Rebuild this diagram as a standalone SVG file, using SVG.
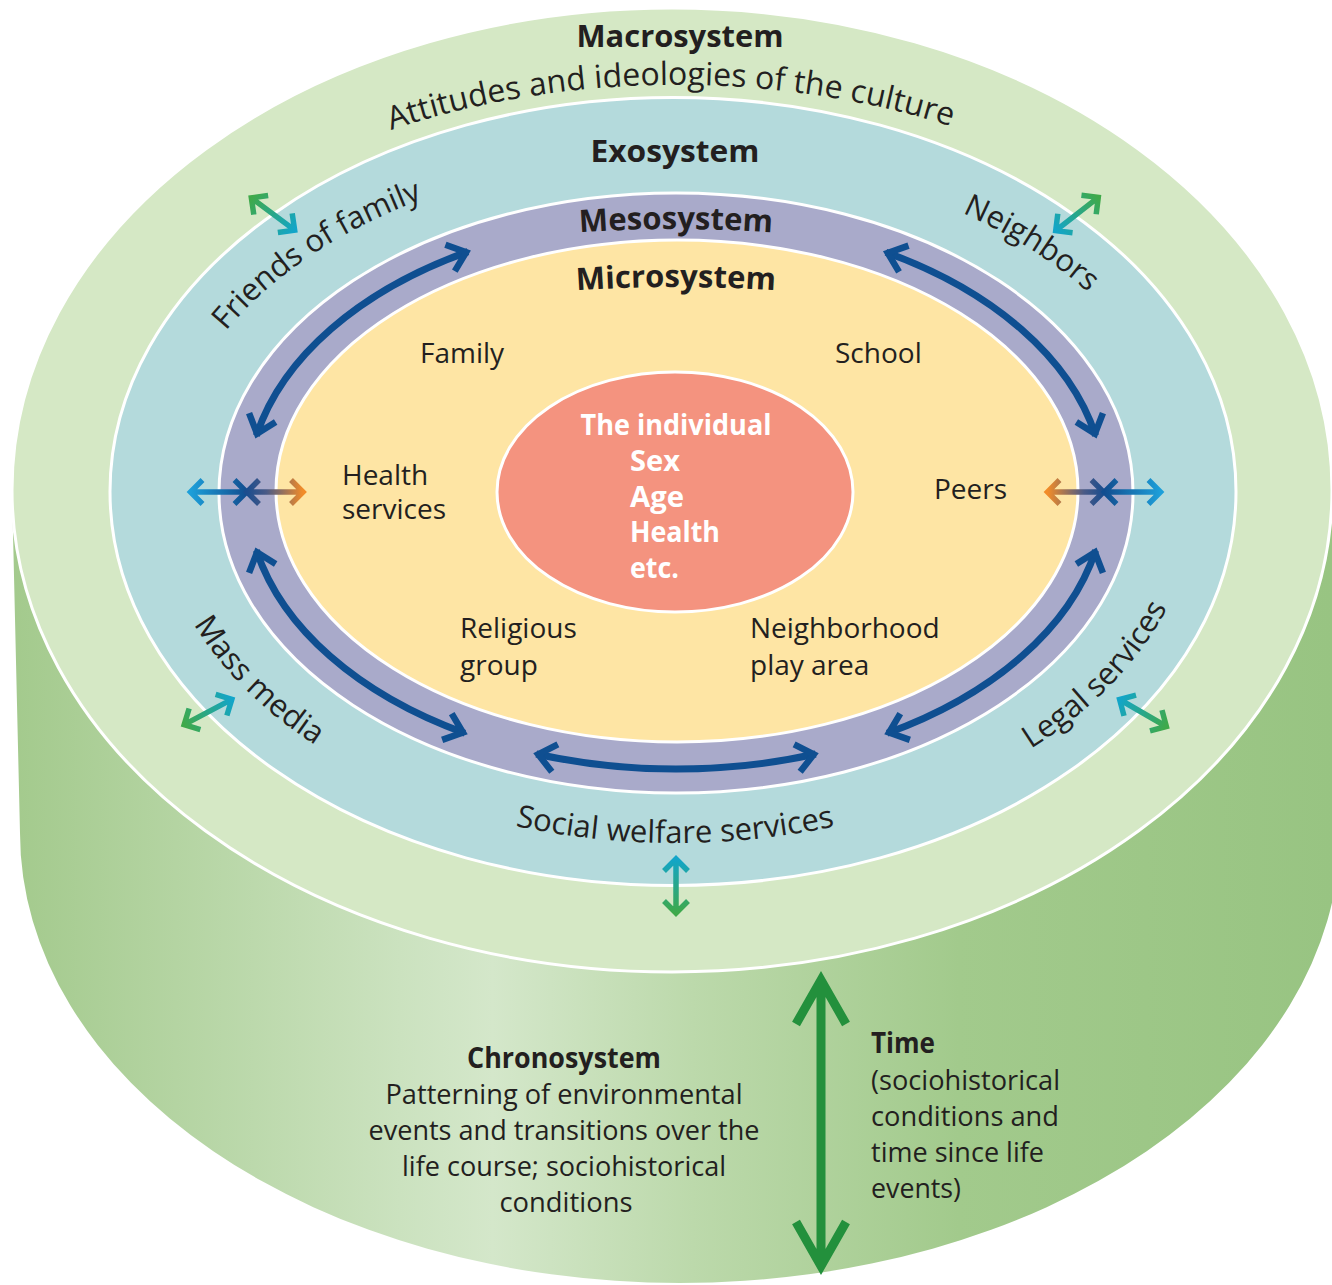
<svg xmlns="http://www.w3.org/2000/svg" xmlns:xlink="http://www.w3.org/1999/xlink" width="1332" height="1285" viewBox="0 0 1332 1285">
<style>
.t{font-family:"Open Sans","Noto Sans","Liberation Sans",sans-serif;fill:#231f20;font-size:28px}
.c{font-size:31px}
.att{font-size:32px}
.b{font-weight:700}
.hd{font-weight:700;font-size:31px}
.w{fill:#ffffff}
.ring{stroke:#ffffff;stroke-width:3}
.ma{fill:none;stroke:#0f4f91;stroke-width:7;marker-start:url(#mb);marker-end:url(#mb)}
.sa{fill:none;stroke-width:5.5;stroke-linejoin:miter}
</style>
<defs>
<linearGradient id="side" x1="0" y1="0" x2="1332" y2="0" gradientUnits="userSpaceOnUse">
<stop offset="0" stop-color="#a2c98b"/>
<stop offset="0.3" stop-color="#cbe2bf"/>
<stop offset="0.37" stop-color="#d4e7ca"/>
<stop offset="0.52" stop-color="#bcd9ab"/>
<stop offset="0.72" stop-color="#a2ca8c"/>
<stop offset="1" stop-color="#98c482"/>
</linearGradient>
<linearGradient id="gTG" x1="-27" y1="0" x2="27" y2="0" gradientUnits="userSpaceOnUse">
<stop offset="0" stop-color="#3fa94a"/>
<stop offset="1" stop-color="#12a5c9"/>
</linearGradient>
<linearGradient id="gLD" x1="-28" y1="0" x2="28" y2="0" gradientUnits="userSpaceOnUse">
<stop offset="0" stop-color="#1d9fd9"/>
<stop offset="1" stop-color="#124e90"/>
</linearGradient>
<linearGradient id="gDO" x1="-28" y1="0" x2="28" y2="0" gradientUnits="userSpaceOnUse">
<stop offset="0" stop-color="#1b4d8e"/>
<stop offset="0.35" stop-color="#4a5a86"/>
<stop offset="1" stop-color="#f28c28"/>
</linearGradient>
<marker id="mb" viewBox="-30 -20 40 40" refX="0" refY="0" markerWidth="40" markerHeight="40" markerUnits="userSpaceOnUse" orient="auto-start-reverse" overflow="visible">
<path d="M-19,-14 L-2,0 L-19,14" fill="none" stroke="#0f4f91" stroke-width="6.5"/>
</marker>
<path id="dbl" d="M-27,0 H27 M-15,-12 L-27,0 L-15,12 M15,-12 L27,0 L15,12"/>
<path id="dblB" d="M-28,0 H28 M-16,-12 L-28,0 L-16,12 M16,-12 L28,0 L16,12"/>
<path id="pAtt" d="M391.3,129.9 A625,408 0 0 1 1154.8,230.1"/>
<path id="pMeso" d="M376,264.4 A600,264 0 0 1 976,264.4"/>
<path id="pMicro" d="M401,314.6 A550,206 0 0 1 951,314.6"/>
<path id="pFriends" d="M226,331 A512,338 0 0 1 587.1,160.1"/>
<path id="pNeigh" d="M962.3,212.8 A512,338 0 0 1 1188,493"/>
<path id="pMass" d="M193.9,624.1 A520,350 0 0 0 585.7,837.7"/>
<path id="pLegal" d="M1030.6,749 A520,350 0 0 0 1196,493"/>
<path id="pSocial" d="M515.3,825.9 A520,350 0 0 0 936,796.1"/>
</defs>

<g id="chronosystem">
<path d="M12,490 L20,833 A660,450 0 0 0 1340,833 L1332,490 Z" fill="url(#side)"/>
<text class="t b" x="564" y="1068" text-anchor="middle" textLength="194" lengthAdjust="spacingAndGlyphs">Chronosystem</text>
<text class="t" x="564" y="1104" text-anchor="middle" textLength="357" lengthAdjust="spacingAndGlyphs">Patterning of environmental</text>
<text class="t" x="564" y="1140" text-anchor="middle" textLength="391" lengthAdjust="spacingAndGlyphs">events and transitions over the</text>
<text class="t" x="564" y="1176" text-anchor="middle" textLength="324" lengthAdjust="spacingAndGlyphs">life course; sociohistorical</text>
<text class="t" x="566" y="1212" text-anchor="middle" textLength="133" lengthAdjust="spacingAndGlyphs">conditions</text>
<text class="t b" x="871" y="1053" textLength="64" lengthAdjust="spacingAndGlyphs">Time</text>
<text class="t" x="871" y="1090" textLength="189" lengthAdjust="spacingAndGlyphs">(sociohistorical</text>
<text class="t" x="871" y="1126" textLength="188" lengthAdjust="spacingAndGlyphs">conditions and</text>
<text class="t" x="871" y="1162" textLength="173" lengthAdjust="spacingAndGlyphs">time since life</text>
<text class="t" x="871" y="1198" textLength="90" lengthAdjust="spacingAndGlyphs">events)</text>
</g>

<g id="macrosystem">
<ellipse class="ring" cx="672" cy="490" rx="660" ry="482" fill="#d5e8c5"/>
<text class="t hd" x="680" y="47" text-anchor="middle" textLength="207" lengthAdjust="spacingAndGlyphs">Macrosystem</text>
<text class="t att"><textPath href="#pAtt" xlink:href="#pAtt">Attitudes and ideologies of the culture</textPath></text>
</g>

<g id="exosystem">
<ellipse class="ring" cx="673" cy="491.5" rx="563" ry="394" fill="#b4dadc"/>
<text class="t hd" x="675" y="162" text-anchor="middle" textLength="169" lengthAdjust="spacingAndGlyphs">Exosystem</text>
<text class="t c"><textPath href="#pFriends" xlink:href="#pFriends">Friends of family</textPath></text>
<text class="t c"><textPath href="#pNeigh" xlink:href="#pNeigh">Neighbors</textPath></text>
<text class="t c"><textPath href="#pMass" xlink:href="#pMass">Mass media</textPath></text>
<text class="t c"><textPath href="#pLegal" xlink:href="#pLegal">Legal services</textPath></text>
<text class="t c"><textPath href="#pSocial" xlink:href="#pSocial">Social welfare services</textPath></text>
</g>

<g id="mesosystem">
<ellipse class="ring" cx="676" cy="493" rx="457" ry="300" fill="#a9aaca"/>
<text class="t hd" text-anchor="middle"><textPath href="#pMeso" xlink:href="#pMeso" startOffset="50%">Mesosystem</textPath></text>
</g>

<g id="microsystem">
<ellipse class="ring" cx="677" cy="491" rx="401" ry="251" fill="#fee5a4"/>
<text class="t hd" text-anchor="middle"><textPath href="#pMicro" xlink:href="#pMicro" startOffset="50%">Microsystem</textPath></text>
</g>

<g id="family"><text class="t" x="420" y="363">Family</text></g>
<g id="school"><text class="t" x="835" y="363">School</text></g>
<g id="health-services"><text class="t" x="342" y="485">Health</text><text class="t" x="342" y="519">services</text></g>
<g id="peers"><text class="t" x="934" y="499">Peers</text></g>
<g id="religious-group"><text class="t" x="460" y="638">Religious</text><text class="t" x="460" y="675">group</text></g>
<g id="neighborhood-play-area"><text class="t" x="750" y="638">Neighborhood</text><text class="t" x="750" y="675">play area</text></g>

<g id="individual">
<ellipse class="ring" cx="675" cy="492" rx="178" ry="120" fill="#f4937f"/>
<text class="t b w" x="676" y="435" text-anchor="middle" textLength="191" lengthAdjust="spacingAndGlyphs">The individual</text>
<text class="t b w" x="630" y="471" textLength="50" lengthAdjust="spacingAndGlyphs">Sex</text>
<text class="t b w" x="630" y="507" textLength="54" lengthAdjust="spacingAndGlyphs">Age</text>
<text class="t b w" x="630" y="542" textLength="90" lengthAdjust="spacingAndGlyphs">Health</text>
<text class="t b w" x="630" y="578" textLength="49" lengthAdjust="spacingAndGlyphs">etc.</text>
</g>

<g id="connectors">
<path class="ma" d="M256.4,435.6 A429,276 0 0 1 468,251.6"/>
<path class="ma" d="M885.9,252.3 A429,276 0 0 1 1095.6,435.6"/>
<path class="ma" d="M256.4,550.4 A429,276 0 0 0 464.8,733.2"/>
<path class="ma" d="M1095.6,550.4 A429,276 0 0 1 887.2,733.2"/>
<path class="ma" d="M536.3,754 A429,276 0 0 0 815.7,754"/>
<use href="#dbl" xlink:href="#dbl" class="sa" stroke="url(#gTG)" transform="translate(273,214) rotate(36.7)"/>
<use href="#dbl" xlink:href="#dbl" class="sa" stroke="url(#gTG)" transform="translate(1077,214) rotate(142)"/>
<use href="#dbl" xlink:href="#dbl" class="sa" stroke="url(#gTG)" transform="translate(208,712) rotate(-28)"/>
<use href="#dbl" xlink:href="#dbl" class="sa" stroke="url(#gTG)" transform="translate(1143,713) rotate(-150)"/>
<use href="#dbl" xlink:href="#dbl" class="sa" stroke="url(#gTG)" transform="translate(676,886) rotate(-90)"/>
<use href="#dblB" xlink:href="#dblB" class="sa" stroke="url(#gLD)" transform="translate(218.5,492)"/>
<use href="#dblB" xlink:href="#dblB" class="sa" stroke="url(#gDO)" transform="translate(275,492)"/>
<use href="#dblB" xlink:href="#dblB" class="sa" stroke="url(#gDO)" transform="translate(1075.5,492) rotate(180)"/>
<use href="#dblB" xlink:href="#dblB" class="sa" stroke="url(#gLD)" transform="translate(1132.5,492) rotate(180)"/>
<path d="M821,980 V1264 M796,1024 L821,980 L846,1024 M796,1222 L821,1266 L846,1222" fill="none" stroke="#23903c" stroke-width="9"/>
</g>
</svg>
